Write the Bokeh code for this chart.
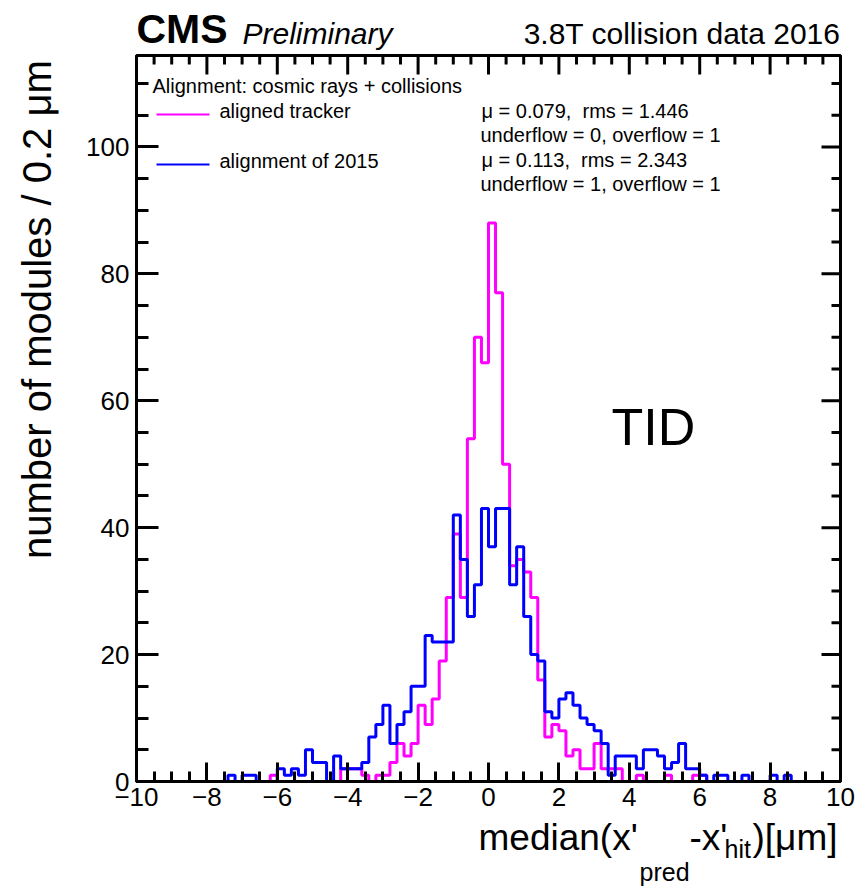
import math
import numpy as np
from bokeh.plotting import figure
from bokeh.layouts import column, row
from bokeh.models import Range1d, LinearAxis, SingleIntervalTicker, Label
from bokeh.embed import file_html
from bokeh.resources import INLINE

# ---------------- data ----------------
bin_low = -10.0
bin_high = 10.0
bin_width = 0.2

aligned_tracker = [
    0, 0, 0, 0, 0, 0, 0, 0, 0, 0,
    0, 0, 0, 0, 0, 0, 0, 0, 0, 1,
    0, 0, 0, 0, 0, 0, 0, 0, 0, 2,
    2, 2, 1, 0, 1, 1, 3, 6, 4, 6,
    12, 9, 13, 19, 29, 39, 29, 54, 70, 66,
    88, 77, 50, 34, 35, 33, 29, 16, 7, 9,
    8, 4, 5, 2, 2, 6, 2, 2, 2, 0,
    0, 1, 0, 0, 0, 1, 0, 0, 0, 1,
    1, 0, 0, 0, 0, 0, 0, 0, 0, 0,
    0, 0, 0, 0, 0, 0, 0, 0, 0, 0,
]
alignment_2015 = [
    0, 0, 0, 0, 0, 0, 0, 0, 0, 0,
    0, 0, 0, 1, 0, 1, 1, 0, 0, 0,
    2, 1, 2, 1, 5, 3, 3, 0, 4, 2,
    2, 2, 3, 7, 9, 12, 6, 9, 11, 15,
    15, 23, 22, 22, 22, 42, 35, 26, 31, 43,
    37, 43, 43, 31, 37, 26, 20, 19, 11, 10,
    13, 14, 12, 10, 9, 8, 6, 1, 4, 4,
    4, 2, 5, 5, 4, 2, 3, 6, 2, 2,
    1, 0, 1, 1, 0, 0, 1, 0, 0, 0,
    1, 0, 1, 0, 0, 0, 0, 0, 0, 0,
]
series_names = ["aligned tracker", "alignment of 2015"]
series_colors = ["#ff00ff", "#0000ff"]
stats_lines = [
    "\u03bc = 0.079, \u00a0rms = 1.446",
    "underflow = 0, overflow = 1",
    "\u03bc = 0.113, \u00a0rms = 2.343",
    "underflow = 1, overflow = 1",
]
x_major = 2
x_minor = 0.5
y_major = 20
y_minor = 5
y_max = 1.3 * max(aligned_tracker)

FONT = "Liberation Sans"
BASE = 0.38  # baseline correction (fraction of font size) for rendered labels

# ---------------- page geometry (canvas pixels) ----------------
W, H = 859, 890
HEAD_H = 52          # header strip
YT_W = 66            # y-title strip
FL, FR, FT, FB = 136, 840, 55, 781   # frame edges on the page
XT_TOP = 817         # top of x-title strip
MAIN_H = XT_TOP - HEAD_H
MAIN_W = W - YT_W


def strip(width, height):
    f = figure(width=width, height=height, output_backend="svg", toolbar_location=None,
               x_range=Range1d(0, width), y_range=Range1d(height, 0),
               min_border=0, x_axis_location=None, y_axis_location=None)
    f.grid.grid_line_color = None
    f.outline_line_color = None
    f.background_fill_color = "white"
    f.border_fill_color = "white"
    return f


def put(fig, x, y, text, size, align="left", style="normal", angle=0.0):
    fig.add_layout(Label(x=x, y=y, text=text, text_font=FONT,
                         text_font_size="%dpx" % size, text_align=align,
                         text_baseline="alphabetic", text_font_style=style,
                         text_color="black", angle=angle))


# ---------------- header ----------------
head = strip(W, HEAD_H)
put(head, 136, 44 - BASE * 41, "CMS", 41, style="bold")
put(head, 242, 44 - BASE * 30, "Preliminary", 30, style="italic")
put(head, 840, 44 - BASE * 30, "3.8T collision data 2016", 30, align="right")

# ---------------- y title ----------------
ytit = strip(YT_W, MAIN_H)
YF = 40
put(ytit, 52 - BASE * YF, 57 - HEAD_H, "number of modules / 0.2 \u03bcm", YF,
    align="right", angle=math.pi / 2)

# ---------------- x title ----------------
xtit = strip(W, H - XT_TOP)
F, S = 37, 25
XB = 851
pieces = [
    (478, "median(x'", F, 0),
    (639, "pred", S, 30),
    (689, "-x'", F, 0),
    (724, "hit", S, 7),
    (752, ")[\u03bcm]", F, 0),
]
for px, t, sz, off in pieces:
    put(xtit, px, XB + off - XT_TOP - BASE * sz, t, sz)

# ---------------- main plot ----------------
p = figure(width=MAIN_W, height=MAIN_H, output_backend="svg", toolbar_location=None,
           x_range=Range1d(bin_low, bin_high), y_range=Range1d(0, y_max),
           min_border_left=FL - YT_W, min_border_right=W - FR,
           min_border_top=FT - HEAD_H, min_border_bottom=XT_TOP - FB,
           x_axis_location=None, y_axis_location=None)
p.grid.grid_line_color = None
p.outline_line_color = "black"
p.outline_line_width = 3
p.background_fill_color = "white"
p.border_fill_color = "white"


def dx(px):
    return bin_low + (px - FL) * (bin_high - bin_low) / (FR - FL)


def dy(py):
    return (FB - py) * y_max / (FB - FT)


def minus(v):
    return ("%g" % v).replace("-", "\u2212")


def make_axis(interval, ticks, major_in, minor_in, standoff):
    ax = LinearAxis(ticker=SingleIntervalTicker(interval=interval, num_minor_ticks=4))
    ax.axis_line_width = 3
    ax.axis_line_color = "black"
    ax.major_tick_in = major_in
    ax.major_tick_out = 0
    ax.minor_tick_in = minor_in
    ax.minor_tick_out = 0
    ax.major_tick_line_width = 3
    ax.minor_tick_line_width = 3
    ax.major_label_text_font = FONT
    ax.major_label_text_font_size = "26px"
    ax.major_label_text_color = "black"
    ax.major_label_overrides = {t: minus(t) for t in ticks}
    ax.major_label_standoff = standoff
    return ax


xt = list(range(int(bin_low), int(bin_high) + 1, x_major))
yt = list(range(0, int(y_max) + 1, y_major))
p.add_layout(make_axis(x_major, xt, 19, 10, 6), "below")
p.add_layout(make_axis(y_major, yt, 22, 12, 7), "left")

# mirrored ticks on top and right edges
top_x = np.arange(bin_low + x_minor, bin_high - x_minor / 2, x_minor)
top_major = np.isclose(np.mod(top_x + 100, x_major), 0) | np.isclose(np.mod(top_x + 100, x_major), x_major)
top_len = np.where(top_major, 19, 9)
p.segment(x0=top_x, y0=np.full(len(top_x), y_max),
          x1=top_x, y1=y_max - top_len * y_max / (FB - FT),
          line_color="black", line_width=3)
right_y = np.arange(y_minor, y_max, y_minor)
right_len = np.where(np.isclose(np.mod(right_y, y_major), 0), 19, 9)
p.segment(x0=np.full(len(right_y), bin_high), y0=right_y,
          x1=bin_high - right_len * (bin_high - bin_low) / (FR - FL), y1=right_y,
          line_color="black", line_width=3)

# histograms
n = len(aligned_tracker)
edges = [bin_low + i * bin_width for i in range(n + 1)]
for vals, col in zip([aligned_tracker, alignment_2015], series_colors):
    p.step(x=edges, y=list(vals) + [vals[-1]], mode="after",
           line_color=col, line_width=3)


def lab(px, py, text, size, align="left", style="normal"):
    p.add_layout(Label(x=dx(px), y=dy(py - BASE * size), text=text, text_font=FONT,
                       text_font_size="%dpx" % size, text_align=align,
                       text_baseline="alphabetic", text_font_style=style,
                       text_color="black"))


# legend
lab(152, 93, "Alignment: cosmic rays + collisions", 20)
for i, (name, col) in enumerate(zip(series_names, series_colors)):
    ly = 114 + 50 * i
    p.segment(x0=[dx(156)], y0=[dy(ly)], x1=[dx(209)], y1=[dy(ly)],
              line_color=col, line_width=2)
    lab(219, ly + 4, name, 20)
for i, s in enumerate(stats_lines):
    lab(481 if i % 2 == 0 else 480, 118 + 24.5 * i, s, 20)

# region tag
lab(611, 446, "TID", 52)

layout = column(head, row(ytit, p), xtit)
open("out.html", "w").write(file_html(layout, INLINE))
